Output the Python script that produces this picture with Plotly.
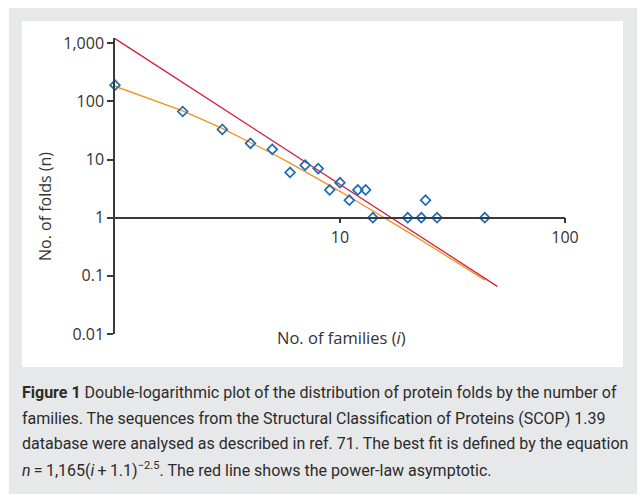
import plotly.graph_objects as go

# ---- data ----
families = [1, 2, 3, 4, 5, 6, 7, 8, 9, 10, 11, 12, 13, 14, 20, 23, 24, 27, 44]
folds = [190, 67, 33, 19, 15, 6, 8, 7, 3, 4, 2, 3, 3, 1, 1, 1, 2, 1, 1]

fit_i = [1, 2, 3, 4, 5, 6, 7, 8, 9, 10, 11, 12, 13, 14, 20, 23, 24, 27, 44]
fit_n = [182.3, 68.85, 34.23, 19.83, 12.68, 8.673, 6.239, 4.664, 3.594, 2.838,
         2.287, 1.876, 1.561, 1.315, 0.5697, 0.4086, 0.3691, 0.2783, 0.0853]

asym_i = [1, 50]
asym_n = [1200, 0.066]

y_tickvals = [0.01, 0.1, 1, 10, 100, 1000]
y_ticktext = ["0.01", "0.1", "1", "10", "100", "1,000"]
x_tickvals = [10, 100]
x_ticktext = ["10", "100"]

caption_lines = [
    "<b>Figure 1</b> Double-logarithmic plot of the distribution of protein folds by the number of",
    "families. The sequences from the Structural Classification of Proteins (SCOP) 1.39",
    "database were analysed as described in ref. 71. The best fit is defined by the equation",
    "<i>n</i>\u2009=\u20091,165(<i>i</i>\u2009+\u20091.1)<sup>\u22122.5</sup>. The red line shows the power-law asymptotic.",
]

# ---- layout geometry (pixels) ----
W, H = 642, 495
L, R, T, B = 115, 77, 38, 161
PW = W - L - R
PH = H - T - B


def px(xp):
    return (xp - L) / PW


def py(yp):
    return (H - B - yp) / PH


AXIS_COLOR = "#3a3a3a"
TXT = "#333333"
FONT = "Open Sans, Liberation Sans, sans-serif"
CAP_FONT = "Roboto, Liberation Sans, sans-serif"

fig = go.Figure()

fig.add_trace(go.Scatter(
    x=asym_i, y=asym_n, mode="lines",
    line=dict(color="#d4213a", width=1.3), hoverinfo="skip", showlegend=False))

fig.add_trace(go.Scatter(
    x=fit_i, y=fit_n, mode="lines",
    line=dict(color="#f5901e", width=1.3), hoverinfo="skip", showlegend=False))

fig.add_trace(go.Scatter(
    x=families, y=folds, mode="markers", cliponaxis=False,
    marker=dict(symbol="diamond-open", size=7.5, color="#1c6db5",
                line=dict(width=1.7, color="#1c6db5")),
    showlegend=False))

ymin, ymax = -2, 3.09
fig.update_yaxes(
    type="log", range=[ymin, ymax], tickvals=y_tickvals, ticktext=y_ticktext,
    showline=True, linecolor=AXIS_COLOR, linewidth=1.5,
    ticks="outside", ticklen=6, tickwidth=1.5, tickcolor=AXIS_COLOR,
    showgrid=False, zeroline=False,
    tickfont=dict(family=FONT, size=16, color=TXT))

fig.update_xaxes(
    type="log", range=[0, 2], tickvals=x_tickvals, ticktext=x_ticktext,
    anchor="free", position=(0 - ymin) / (ymax - ymin),
    showline=True, linecolor=AXIS_COLOR, linewidth=1.5,
    ticks="outside", ticklen=5, tickwidth=1.5, tickcolor=AXIS_COLOR,
    showgrid=False, zeroline=False,
    tickfont=dict(family=FONT, size=16, color=TXT))

shapes = [
    dict(type="rect", xref="paper", yref="paper", layer="below",
         x0=px(9), x1=px(637), y0=py(494), y1=py(8),
         fillcolor="#e7e8e9", line=dict(width=0)),
    dict(type="rect", xref="paper", yref="paper", layer="below",
         x0=px(22), x1=px(623), y0=py(367), y1=py(21),
         fillcolor="#ffffff", line=dict(width=0)),
]

annotations = [
    dict(text="No. of folds (n)", x=px(45), y=py(207), xref="paper", yref="paper",
         textangle=-90, showarrow=False, xanchor="center", yanchor="middle",
         font=dict(family=FONT, size=16, color=TXT)),
    dict(text="No. of families (<i>i</i>)", x=px(341), y=py(337), xref="paper", yref="paper",
         showarrow=False, xanchor="center", yanchor="middle",
         font=dict(family=FONT, size=16.5, color=TXT)),
]

line_y = [392, 418, 444, 469]
for txt, yy in zip(caption_lines, line_y):
    annotations.append(dict(
        text=txt, x=px(20), y=py(yy), xref="paper", yref="paper",
        showarrow=False, xanchor="left", yanchor="middle", align="left",
        font=dict(family=CAP_FONT, size=16, color="#2b2b2b")))

fig.update_layout(
    width=W, height=H,
    margin=dict(l=L, r=R, t=T, b=B, pad=0),
    paper_bgcolor="#ffffff", plot_bgcolor="rgba(0,0,0,0)",
    shapes=shapes, annotations=annotations, showlegend=False,
)

fig.write_html("out.html")
